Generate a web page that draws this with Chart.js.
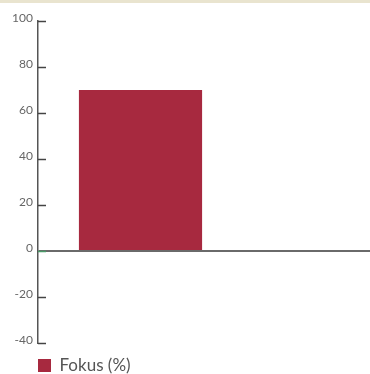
<!DOCTYPE html>
<html>
<head>
<meta charset="utf-8">
<script src="https://cdn.jsdelivr.net/npm/chart.js@4/dist/chart.umd.min.js"></script>
<style>
  html, body { margin: 0; padding: 0; background: #fff; overflow: hidden; }
  .band { height: 3px; background: #e9e4cf; }
  .wrap { position: relative; width: 370px; height: 381px; }
</style>
</head>
<body>
<div class="band"></div>
<div class="wrap"><canvas id="chart"></canvas></div>
<script>
// values
const categories = [""];
const focusValues = [70];
const otherValues = [null]; // second series, no value shown
const yTicks = [-40, -20, 0, 20, 40, 60, 80, 100];

// short tick marks that point into the plot, as in the original
const innerTicks = {
  id: "innerTicks",
  afterLayout(chart) {
    // legend starts under the axis line, not at the canvas edge
    chart.legend.left += 24;
  },
  afterDatasetsDraw(chart) {
    const y = chart.scales.y;
    const ctx = chart.ctx;
    const left = chart.chartArea.left;
    ctx.save();
    ctx.lineWidth = 1.5;
    yTicks.forEach(v => {
      const py = Math.round(y.getPixelForValue(v)) + 0.5;
      ctx.strokeStyle = v === 0 ? "#4a9a68" : "#444";
      ctx.beginPath();
      ctx.moveTo(left, py);
      ctx.lineTo(left + 8, py);
      ctx.stroke();
    });
    ctx.restore();
  }
};

new Chart(document.getElementById("chart").getContext("2d"), {
  type: "bar",
  data: {
    labels: categories,
    datasets: [
      { label: "Fokus (%)", data: focusValues, backgroundColor: "#a7293f" },
      { label: "", data: otherValues, backgroundColor: "#bbb" }
    ]
  },
  options: {
    responsive: true,
    maintainAspectRatio: false,
    animation: false,
    devicePixelRatio: 1,
    categoryPercentage: 0.765,
    barPercentage: 0.97,
    layout: { padding: { top: 18, left: 0, right: 0, bottom: 0 } },
    plugins: {
      tooltip: { enabled: false },
      legend: {
        position: "bottom",
        align: "start",
        labels: {
          boxWidth: 13,
          boxHeight: 13,
          padding: 14,
          color: "#555",
          font: { family: "Lato", size: 17 },
          filter: item => item.datasetIndex === 0
        }
      }
    },
    scales: {
      x: { display: false },
      y: {
        min: -40,
        max: 100,
        afterFit(scale) { scale.width = 38; },
        afterBuildTicks(scale) { scale.ticks = yTicks.map(v => ({ value: v })); },
        border: { display: true, color: "#555", width: 1.5 },
        grid: {
          drawTicks: false,
          color: ctx => ctx.tick && ctx.tick.value === 0 ? "#6a6a6a" : "rgba(0,0,0,0)",
          lineWidth: 2
        },
        ticks: {
          padding: 5,
          labelOffset: -3,
          color: "#666",
          font: { family: "Lato", size: 12 }
        }
      }
    }
  },
  plugins: [innerTicks]
});
</script>
</body>
</html>
